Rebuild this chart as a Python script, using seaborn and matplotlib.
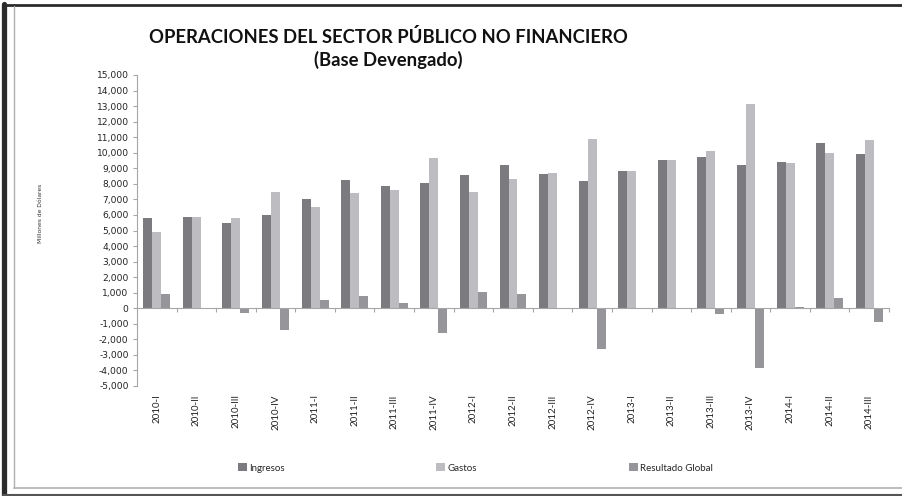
import matplotlib
matplotlib.use("Agg")
import matplotlib.pyplot as plt
import seaborn as sns
import pandas as pd
from matplotlib.patches import Patch
from matplotlib.lines import Line2D
from matplotlib.ticker import FuncFormatter, MultipleLocator, FixedLocator

periods = ["2010-I", "2010-II", "2010-III", "2010-IV",
           "2011-I", "2011-II", "2011-III", "2011-IV",
           "2012-I", "2012-II", "2012-III", "2012-IV",
           "2013-I", "2013-II", "2013-III", "2013-IV",
           "2014-I", "2014-II", "2014-III"]
ingresos = [5830, 5870, 5490, 6020, 7010, 8230, 7880, 8080, 8550, 9200,
            8620, 8170, 8820, 9550, 9700, 9210, 9400, 10620, 9890]
gastos = [4910, 5870, 5830, 7470, 6510, 7390, 7590, 9690, 7480, 8320,
          8700, 10870, 8820, 9550, 10130, 13140, 9340, 9980, 10820]
resultado = [940, 30, -300, -1420, 530, 810, 320, -1570, 1050, 900,
             -60, -2640, 20, 10, -390, -3820, 60, 660, -880]
series = ["Ingresos", "Gastos", "Resultado Global"]
colors = ["#7b7b7f", "#bdbdc1", "#95959a"]

df = pd.DataFrame({
    "Periodo": periods * 3,
    "Serie": [series[0]] * 19 + [series[1]] * 19 + [series[2]] * 19,
    "Valor": ingresos + gastos + resultado,
})

sns.set_theme(style="white")
plt.rcParams["font.family"] = ["DejaVu Sans"]

W, H = 903, 496
fig = plt.figure(figsize=(W / 100, H / 100), dpi=100)
ax = fig.add_axes([137 / W, 1 - 386 / H, (889 - 137) / W, (386 - 75) / H])

sns.barplot(data=df, x="Periodo", y="Valor", hue="Serie", order=periods,
            hue_order=series, palette=colors, width=0.68, gap=0,
            linewidth=0, saturation=1, ax=ax, legend=False)

ax.set_ylim(-5000, 15000)
ax.set_xlim(-0.5, 18.5)
ax.yaxis.set_major_locator(MultipleLocator(1000))
ax.yaxis.set_major_formatter(FuncFormatter(lambda v, p: f"{int(v):,}"))
ax.set_xlabel("")
ax.set_ylabel("")

for s in ["top", "right"]:
    ax.spines[s].set_visible(False)
ax.spines["left"].set_color("#a6a6a6")
ax.spines["left"].set_linewidth(0.8)
ax.spines["bottom"].set_position(("data", 0))
ax.spines["bottom"].set_color("#a6a6a6")
ax.spines["bottom"].set_linewidth(0.8)

ax.tick_params(axis="y", which="major", direction="out", length=3, width=0.8,
               color="#a6a6a6", labelsize=6.6, pad=3, left=True,
               labelcolor="#222222")
ax.xaxis.set_minor_locator(FixedLocator([i + 0.5 for i in range(19)]))
ax.tick_params(axis="x", which="minor", direction="out", length=3, width=0.8,
               color="#a6a6a6", bottom=True)
ax.tick_params(axis="x", which="major", length=0, pad=62)
for lab in ax.get_xticklabels():
    lab.set_rotation(90)
    lab.set_fontfamily("Lato")
    lab.set_fontsize(7)
    lab.set_color("#222222")
    lab.set_va("top")
    lab.set_ha("center")

fig.text(388 / W, 1 - 37 / H, "OPERACIONES DEL SECTOR PÚBLICO NO FINANCIERO",
         ha="center", va="center", fontsize=13.3, fontweight="bold",
         family="Lato", color="#111111")
fig.text(388 / W, 1 - 60 / H, "(Base Devengado)", ha="center", va="center",
         fontsize=13.3, fontweight="bold", family="Lato", color="#111111")
fig.text(40 / W, 1 - 213 / H, "Millones de Dólares", rotation=90, ha="center",
         va="center", fontsize=4.3, color="#333333")

handles = [Patch(facecolor=c, edgecolor="none") for c in colors]
leg = fig.legend(handles, series, loc="center left", ncol=3,
                 bbox_to_anchor=(238 / W, 1 - 468 / H), frameon=False,
                 prop={"family": "Lato", "size": 7}, handlelength=0.9,
                 handleheight=0.9, handletextpad=0.25, columnspacing=15.6,
                 borderpad=0, borderaxespad=0)

# chart frames
fig.add_artist(Line2D([4.5 / W, 4.5 / W], [1 - 495 / H, 1 - 4 / H],
                      transform=fig.transFigure, color="#2b2b2b", lw=3.8))
fig.add_artist(Line2D([3 / W, 1], [1 - 5 / H, 1 - 5 / H],
                      transform=fig.transFigure, color="#2b2b2b", lw=2.0))
fig.add_artist(Line2D([3 / W, 1], [1 - 495 / H, 1 - 495 / H],
                      transform=fig.transFigure, color="#555555", lw=1.5))
fig.add_artist(Line2D([14.5 / W, 14.5 / W], [1 - 488 / H, 1 - 6 / H],
                      transform=fig.transFigure, color="#b0b0b0", lw=1.0))
fig.add_artist(Line2D([14.5 / W, 1], [1 - 488 / H, 1 - 488 / H],
                      transform=fig.transFigure, color="#b0b0b0", lw=1.2))

fig.savefig("out.png", dpi=100)
